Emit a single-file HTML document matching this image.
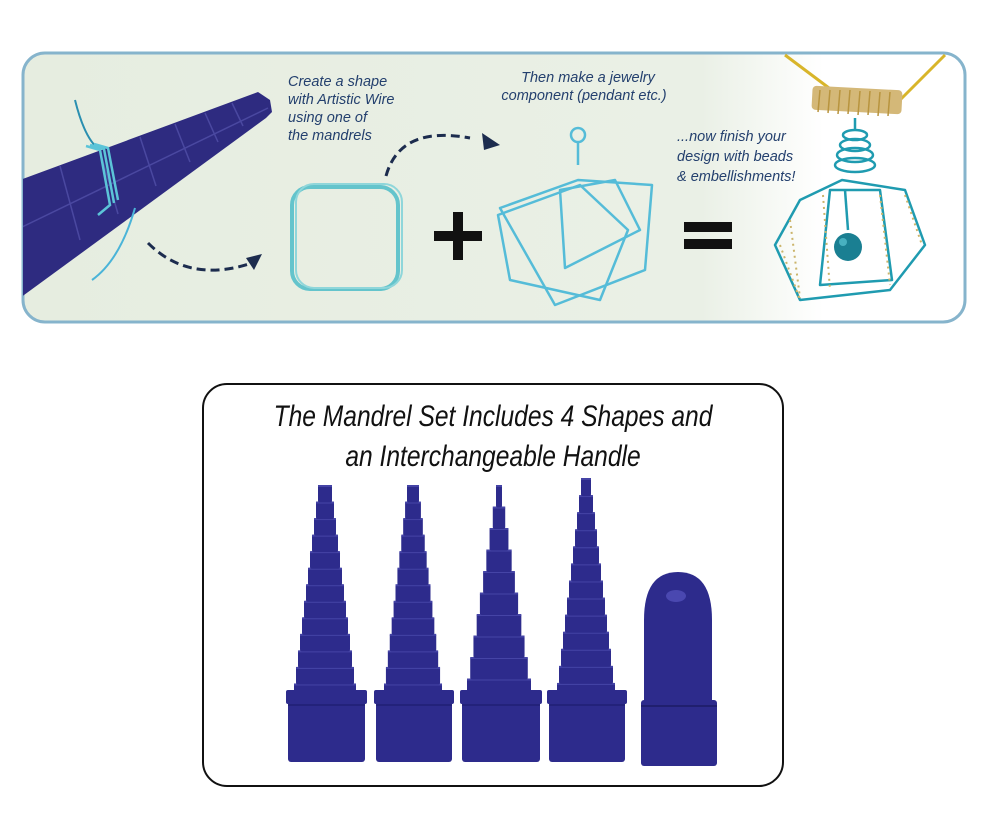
<!DOCTYPE html>
<html><head><meta charset="utf-8"><style>
html,body{margin:0;padding:0;background:#fff;width:986px;height:820px;overflow:hidden}
svg{display:block}
.t{font-family:"Liberation Sans",sans-serif;font-style:italic;fill:#24406e;font-size:14.5px}
.h{font-family:"Liberation Sans",sans-serif;font-style:italic;fill:#111;font-size:30px}
</style></head><body>
<svg id="s" width="986" height="820" viewBox="0 0 986 820" xmlns="http://www.w3.org/2000/svg">
<defs>
<linearGradient id="bg" x1="0" x2="1" y1="0" y2="0">
<stop offset="0" stop-color="#e6ede0"/><stop offset="0.72" stop-color="#eaf0e6"/><stop offset="0.85" stop-color="#ffffff"/><stop offset="1" stop-color="#ffffff"/></linearGradient>
<clipPath id="cp"><rect x="23" y="53" width="942" height="269" rx="22"/></clipPath>
</defs>
<rect x="23" y="53" width="942" height="269" rx="22" fill="url(#bg)" stroke="#86b4cc" stroke-width="3"/>
<g clip-path="url(#cp)">
<!-- mandrel top-left -->
<polygon points="20,180 258,92 270,100 272,112 266,118 20,298" fill="#2e2b80"/>
<g stroke="#4a48a0" stroke-width="1.5">
<line x1="60" y1="166" x2="80" y2="240"/><line x1="100" y1="151" x2="118" y2="214"/><line x1="140" y1="137" x2="156" y2="186"/>
<line x1="175" y1="124" x2="190" y2="162"/><line x1="205" y1="113" x2="218" y2="142"/><line x1="232" y1="103" x2="243" y2="126"/>
<line x1="20" y1="228" x2="268" y2="108"/>
</g>
<path d="M75,100 Q85,140 100,150" stroke="#2a8fb0" stroke-width="2" fill="none"/>
<g stroke="#5cc4d8" stroke-width="2.5" fill="none">
<path d="M86,146 L100,150 L110,205 L98,215"/><path d="M90,145 L104,149 L114,203"/><path d="M94,144 L108,148 L118,200"/>
</g>
<path d="M135,208 Q120,260 92,280" stroke="#4ab4d8" stroke-width="2" fill="none"/>
<!-- arrows -->
<path d="M148,243 Q190,285 255,262" stroke="#1c2c4e" stroke-width="3" stroke-dasharray="9,5" fill="none"/>
<polygon points="262,254 246,258 254,270" fill="#1c2c4e"/>
<path d="M386,176 Q400,125 470,138" stroke="#1c2c4e" stroke-width="3" stroke-dasharray="9,5" fill="none"/>
<polygon points="500,145 482,133 484,150" fill="#1c2c4e"/>
<!-- square wire -->
<rect x="292" y="187" width="106" height="102" rx="18" fill="none" stroke="#64c4cc" stroke-width="4"/>
<rect x="296" y="184" width="106" height="104" rx="18" fill="none" stroke="#8fd6da" stroke-width="2"/>
<!-- plus / equals -->
<rect x="434" y="231" width="48" height="10" fill="#111"/><rect x="453" y="212" width="10" height="48" fill="#111"/>
<rect x="684" y="222" width="48" height="10" fill="#111"/><rect x="684" y="239" width="48" height="10" fill="#111"/>
<!-- pendant -->
<g stroke="#55bcd8" stroke-width="2.5" fill="none" stroke-linejoin="round">
<circle cx="578" cy="135" r="7"/>
<path d="M578,142 L578,165"/>
<polygon points="500,208 578,180 652,185 645,270 555,305"/>
<polygon points="560,190 615,180 640,230 565,268"/>
<polygon points="580,185 628,230 600,300 510,280 498,215"/>
</g>
<!-- necklace -->
<g stroke="#d8b52a" stroke-width="3" fill="none">
<path d="M785,55 L845,100"/><path d="M945,55 L895,105"/>
</g>
<rect x="812" y="88" width="90" height="24" rx="4" fill="#d4b878" transform="rotate(3 857 100)"/>
<g stroke="#b8943e" stroke-width="1.5">
<line x1="820" y1="90" x2="818" y2="112"/><line x1="830" y1="90" x2="828" y2="113"/><line x1="840" y1="90" x2="838" y2="114"/><line x1="850" y1="90" x2="848" y2="114"/><line x1="860" y1="91" x2="858" y2="115"/><line x1="870" y1="91" x2="868" y2="115"/><line x1="880" y1="92" x2="878" y2="116"/><line x1="890" y1="92" x2="888" y2="116"/>
</g>
<g stroke="#1f9bb0" stroke-width="2.5" fill="none" stroke-linejoin="round">
<ellipse cx="855" cy="155" rx="18" ry="7"/><ellipse cx="855" cy="145" rx="15" ry="6"/><ellipse cx="855" cy="165" rx="20" ry="7"/><ellipse cx="855" cy="135" rx="12" ry="5"/>
<path d="M855,118 L855,130"/>
<polygon points="800,200 842,180 905,190 925,245 890,290 800,300 775,245"/>
<polygon points="830,190 880,190 892,280 820,285"/>
<line x1="845" y1="190" x2="848" y2="230"/>
</g>
<circle cx="848" cy="247" r="14" fill="#1a7f92"/><circle cx="843" cy="242" r="4" fill="#48b0c0"/>
<g stroke="#cbb46a" stroke-width="2" stroke-dasharray="2,4" fill="none">
<path d="M790,220 L800,298"/><path d="M823,195 L830,290"/><path d="M880,195 L890,285"/><path d="M905,195 L922,245"/><path d="M780,245 L800,300"/>
</g>
</g>
<text class="t"><tspan x="288" y="86">Create a shape</tspan><tspan x="288" y="104">with Artistic Wire</tspan><tspan x="288" y="122">using one of</tspan><tspan x="288" y="140">the mandrels</tspan></text>
<text class="t" text-anchor="middle"><tspan x="588" y="82">Then make a jewelry</tspan><tspan x="584" y="100">component (pendant etc.)</tspan></text>
<text class="t"><tspan x="677" y="141">...now finish your</tspan><tspan x="677" y="161">design with beads</tspan><tspan x="677" y="181">&amp; embellishments!</tspan></text>
<!-- bottom panel -->
<rect x="203" y="384" width="580" height="402" rx="24" fill="#fff" stroke="#111" stroke-width="2"/>
<g transform="translate(493 0) scale(0.82 1)"><text class="h" text-anchor="middle" x="0" y="426">The Mandrel Set Includes 4 Shapes and</text><text class="h" text-anchor="middle" x="0" y="466">an Interchangeable Handle</text></g>
<g id="m"></g>
<!-- handle -->
<path d="M644,620 Q644,572 678,572 Q712,572 712,620 L712,700 L644,700 Z" fill="#2d2b8c"/>
<ellipse cx="676" cy="596" rx="10" ry="6" fill="#4a48b0"/>
<rect x="641" y="700" width="76" height="66" rx="3" fill="#2d2b8c"/>
<line x1="641" y1="706" x2="717" y2="706" stroke="#201f6e" stroke-width="2"/>
</svg>
<script>
var g=document.getElementById('m'),ns='http://www.w3.org/2000/svg';
function r(x,y,w,h,c,rx){var e=document.createElementNS(ns,'rect');e.setAttribute('x',x);e.setAttribute('y',y);e.setAttribute('width',w);e.setAttribute('height',h);e.setAttribute('fill',c);if(rx)e.setAttribute('rx',rx);g.appendChild(e);}
var M=[[325,288,365,485,12,62,14],[413,376,452,485,12,58,12],[499,462,540,485,9,64,6],[586,549,625,478,12,58,10]];
M.forEach(function(m){var cx=m[0],x0=m[1],x1=m[2],top=m[3],n=m[4],w0=m[5],wt=m[6];
var y0=700;var step=(y0-top)/(n+1);
r(x0,700,x1-x0,62,'#2d2b8c',3);r(x0-2,690,x1-x0+4,14,'#2d2b8c',2);r(x0,704,x1-x0,2,'#23227a');
for(var i=0;i<=n;i++){var w=w0-(w0-wt)*i/n;var y=y0-step*(i+1);r(cx-w/2,y,w,step+1,'#2d2b8c',2);r(cx-w/2,y,w,2,'#4544a6');}
});
</script>
</body></html>
